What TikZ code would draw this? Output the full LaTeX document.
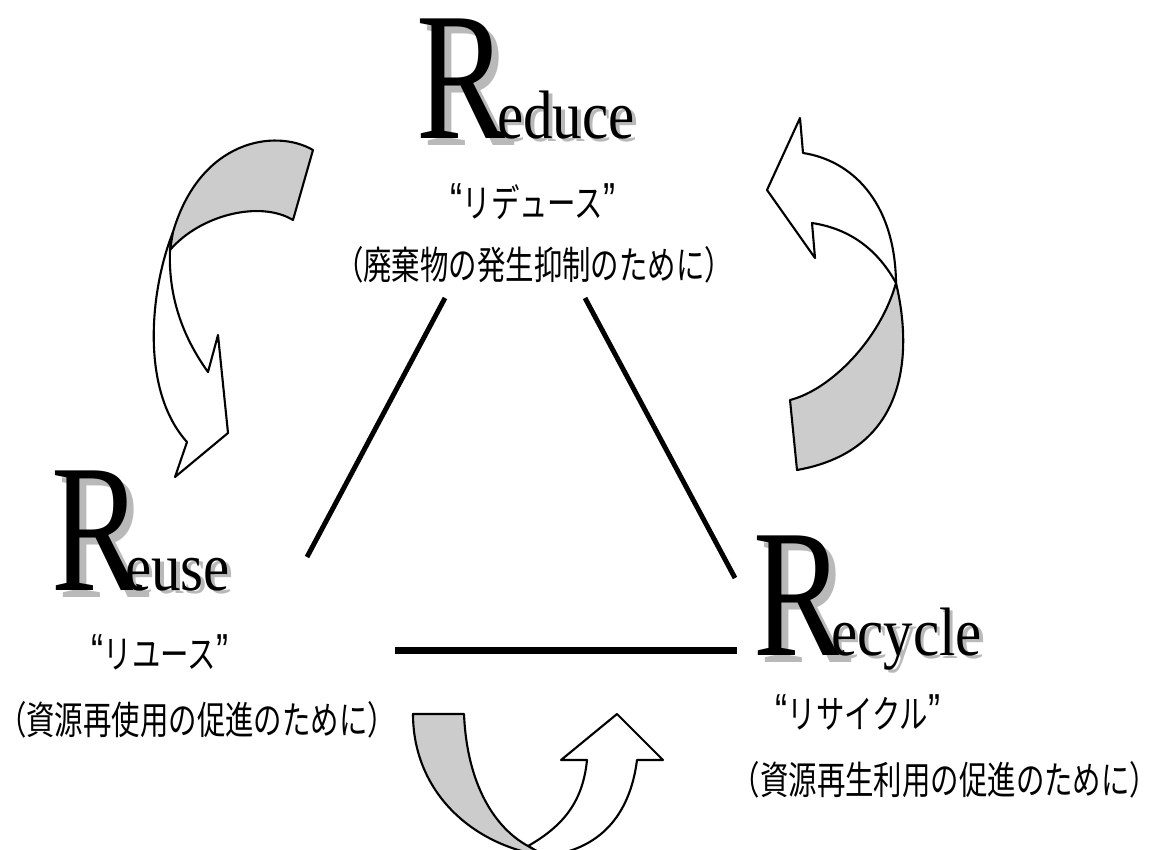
\documentclass[tikz,border=0pt]{standalone}
\usepackage{graphicx}
\usepackage{fontspec}
\setmainfont{Liberation Serif}
\newfontfamily\cjk{Noto Sans CJK JP}
\newfontfamily\qfont{Liberation Sans}
\usetikzlibrary{calc}

\newcommand{\shadowtxt}[2]{\makebox[0pt][l]{\hspace*{#1}\raisebox{-#1}{\textcolor{gray!55}{#2}}}#2}
\newcommand{\narrow}[1]{\scalebox{0.735}[1]{#1}}
\newcommand{\jq}[1]{\narrow{{\qfont\fontsize{28}{28}\selectfont “}#1{\qfont\fontsize{28}{28}\selectfont ”}}}

\tikzset{
  bigR/.style={inner sep=0pt, anchor=base west, font=\fontsize{104}{104}\selectfont},
  restword/.style={inner sep=0pt, anchor=base west, font=\fontsize{39}{39}\selectfont},
  kana/.style={inner sep=0pt, font=\cjk\fontsize{22}{22}\selectfont},
  backband/.style={draw=black, line width=1.2pt, fill=gray!40, line join=round},
  frontband/.style={draw=black, line width=1.2pt, fill=white, line join=round},
  side/.style={line width=2.8pt}
}

\begin{document}
\begin{tikzpicture}[x=0.02cm, y=-0.02cm]
  \useasboundingbox (0,0) rectangle (1151,849);
  %words
  \node[bigR](reduceR) at (416,138) {\shadowtxt{4pt}{\scalebox{0.75}[1]{R}}};
  \node[restword](reduceRest) at (497,138) {\shadowtxt{2pt}{\scalebox{0.86}[1]{educe}}};
  \node[bigR](reuseR) at (51,590) {\shadowtxt{4pt}{\scalebox{0.75}[1]{R}}};
  \node[restword](reuseRest) at (125,590) {\shadowtxt{2pt}{\scalebox{0.86}[1]{euse}}};
  \node[bigR](recycleR) at (753,655) {\shadowtxt{4pt}{\scalebox{0.75}[1]{R}}};
  \node[restword](recycleRest) at (831,655) {\shadowtxt{2pt}{\scalebox{0.86}[1]{ecycle}}};
  \node[kana](reduceKana) at (533,202) {\jq{リデュース}};
  \node[kana](reduceNote) at (534,265) {\narrow{（廃棄物の発生抑制のために）}};
  \node[kana](reuseKana) at (160,652) {\jq{リユース}};
  \node[kana](reuseNote) at (197,720) {\narrow{（資源再使用の促進のために）}};
  \node[kana](recycleKana) at (858,712) {\jq{リサイクル}};
  \node[kana](recycleNote) at (945,780) {\narrow{（資源再生利用の促進のために）}};
  % triangle
  \coordinate (topL) at (445,298);
  \coordinate (topR) at (585,298);
  \coordinate (leftEnd) at (307,557);
  \coordinate (rightEnd) at (735,578);
  \coordinate (baseL) at (395,650);
  \coordinate (baseR) at (737,650);
  \draw[side] (topL) -- (leftEnd);
  \draw[side] (topR) -- (rightEnd);
  \draw[line width=4pt] (baseL) -- (baseR);
  % reduce -> reuse
  \draw[frontband] (173,232) .. controls (150,290) and (140,390) .. (187,442) -- (175,477) -- (228,433) -- (218,335) -- (208,372) .. controls (185,340) and (168,300) .. (170,250) -- cycle;
  \draw[backband] (313,150) .. controls (275,128) and (200,140) .. (173,232) -- (170,250) .. controls (200,215) and (260,200) .. (293,220) -- cycle;
  % recycle -> reduce
  \draw[frontband] (767,190) -- (800,118) -- (803,153) .. controls (850,160) and (895,200) .. (896,283) .. controls (875,245) and (845,228) .. (812,223) -- (815,258) -- cycle;
  \draw[backband] (896,283) .. controls (912,350) and (910,450) .. (797,470) -- (790,400) .. controls (830,390) and (880,340) .. (896,283) -- cycle;
  % reuse -> recycle
  \begin{scope}
    \clip (0,0) rectangle (1151,849);
    \draw[frontband] (528,846) .. controls (565,825) and (583,800) .. (587,760) -- (561,760) -- (617,714) -- (663,760) -- (637,760) .. controls (630,815) and (600,850) .. (545,856) -- cycle;
    \draw[backband] (413,714) -- (464,714) .. controls (467,785) and (495,828) .. (528,846) -- (545,856) .. controls (470,845) and (413,790) .. (413,714) -- cycle;
  \end{scope}
\end{tikzpicture}
\end{document}
